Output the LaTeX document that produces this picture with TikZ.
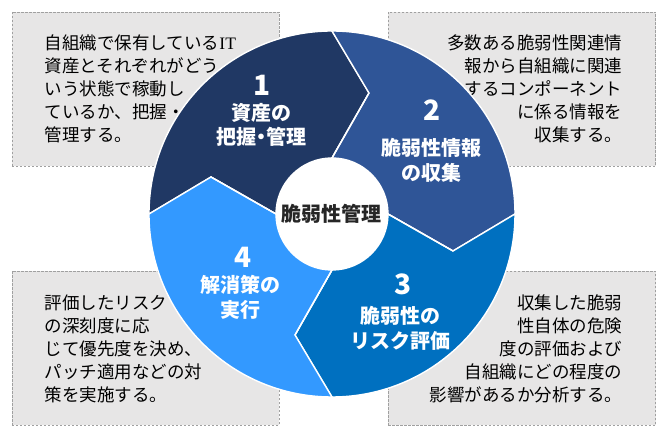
\documentclass[tikz,border=0pt]{standalone}
\usepackage{fontspec}
\setmainfont{Noto Sans CJK JP}
\newfontfamily\latinserif{Liberation Serif}
\definecolor{segone}{HTML}{203864}
\definecolor{segtwo}{HTML}{2F5597}
\definecolor{segthree}{HTML}{0070C0}
\definecolor{segfour}{HTML}{3399FF}
\definecolor{boxfill}{HTML}{E7E6E6}
\definecolor{boxline}{HTML}{A0A0A0}
\definecolor{coretext}{HTML}{262626}
\tikzset{
  notebox/.style={draw=boxline, fill=boxfill, line width=0.7pt, dash pattern=on 2.5pt off 1.5pt,
    minimum height=154, text width=201, inner xsep=33, inner ysep=0pt,
    font=\fontsize{17.5}{23}\selectfont, text=black},
  segment/.style={draw=white, line width=1.4pt},
  stepnum/.style={text=white, font=\fontsize{28}{30}\selectfont\bfseries, inner sep=0pt},
  steplabel/.style={text=white, align=center, font=\fontsize{20}{24.5}\selectfont\bfseries, inner sep=0pt}
}
\begin{document}
\begin{tikzpicture}[x=1pt,y=1pt]
\useasboundingbox (-332,214) rectangle (338,-224);
% explanation boxes
\node[notebox, align=left] (note1) at (-186.5,125) {自組織で保有している{\latinserif IT}\\資産とそれぞれがどう\\いう状態で稼動し\\ているか、把握・\\管理する。};
\node[notebox, align=right] (note2) at (190,125) {多数ある脆弱性関連情\\報から自組織に関連\\するコンポーネント\\に係る情報を\\収集する。};
\node[notebox, align=left] (note4) at (-186.5,-134.5) {評価したリスク\\の深刻度に応\\じて優先度を決め、\\パッチ適用などの対\\策を実施する。};
\node[notebox, align=right] (note3) at (190,-134.5) {収集した脆弱\\性自体の危険\\度の評価および\\自組織にどの程度の\\影響があるか分析する。};
% chevron tips between the steps
\coordinate (tip12) at (37,121);
\coordinate (tip23) at (121,-37);
\coordinate (tip34) at (-37,-121);
\coordinate (tip41) at (-121,37);
% ring segments
\fill[segment, fill=segone] (180:183) arc[start angle=180, end angle=90, radius=183] -- (tip12) -- (90:56) arc[start angle=90, end angle=180, radius=56] -- (tip41) -- cycle;
\fill[segment, fill=segtwo] (90:183) arc[start angle=90, end angle=0, radius=183] -- (tip23) -- (0:56) arc[start angle=0, end angle=90, radius=56] -- (tip12) -- cycle;
\fill[segment, fill=segthree] (0:183) arc[start angle=0, end angle=-90, radius=183] -- (tip34) -- (-90:56) arc[start angle=-90, end angle=0, radius=56] -- (tip23) -- cycle;
\fill[segment, fill=segfour] (270:183) arc[start angle=270, end angle=180, radius=183] -- (tip41) -- (180:56) arc[start angle=180, end angle=270, radius=56] -- (tip34) -- cycle;
\draw[segment] (tip12) -- (90:56) (tip23) -- (0:56) (tip34) -- (-90:56) (tip41) -- (180:56);
% centre
\node[circle, fill=white, minimum size=112, inner sep=0pt, text=coretext, font=\fontsize{20}{24}\selectfont\bfseries] (core) at (0,0) {脆弱性管理};
% step labels
\node[stepnum] (num1) at (-70,129) {1};
\node[steplabel] (lab1) at (-70,89) {資産の\\把握\kern-5pt・\kern-5pt管理};
\node[stepnum] (num2) at (100,104) {2};
\node[steplabel] (lab2) at (100,53.5) {脆弱性情報\\の収集};
\node[stepnum] (num3) at (71,-70) {3};
\node[steplabel] (lab3) at (69,-114.5) {脆弱性の\\リスク評価};
\node[stepnum] (num4) at (-89,-43) {4};
\node[steplabel] (lab4) at (-91,-83.5) {解消策の\\実行};
\end{tikzpicture}
\end{document}
